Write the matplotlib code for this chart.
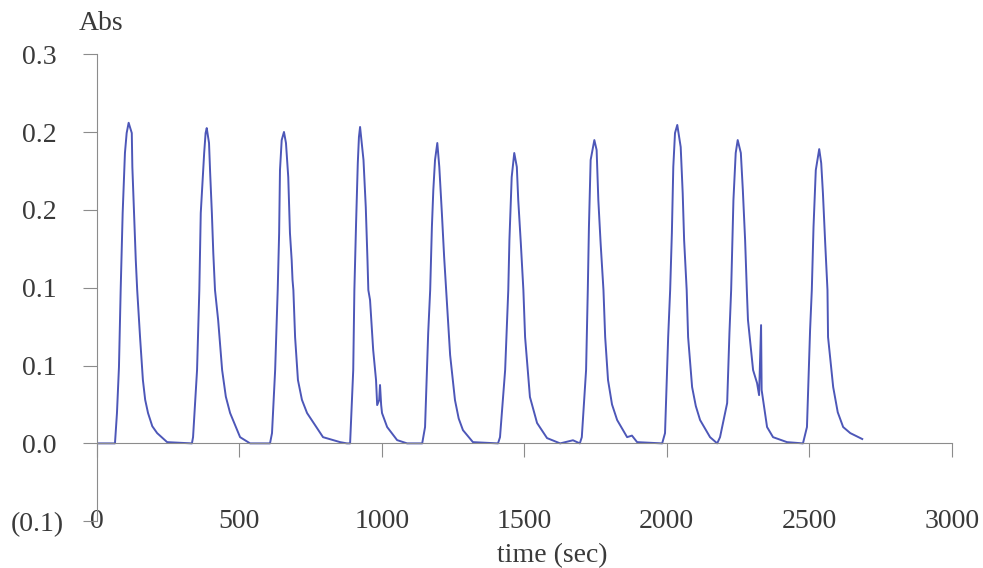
import matplotlib
matplotlib.use("Agg")
import matplotlib.pyplot as plt

# absorbance trace, one row per peak
time_s = [
    0, 57, 64, 71, 78, 84, 91, 99, 105, 112, 123, 125, 131, 137, 142, 152, 162, 170, 180, 195, 212, 247, 334,
    338, 352, 360, 365, 377, 382, 386, 394, 398, 404, 409, 415, 426, 440, 453, 468, 503, 538, 608,
    615, 626, 635, 640, 643, 649, 657, 664, 672, 678, 684, 687, 690, 696, 706, 720, 738, 794, 854, 878,
    889, 900, 904, 910, 916, 920, 924, 936, 944, 950, 953, 959, 970, 980, 984, 991, 994, 998, 1001, 1019, 1054, 1089, 1142,
    1152, 1163, 1170, 1176, 1181, 1187, 1195, 1202, 1211, 1219, 1226, 1240, 1257, 1270, 1285, 1320, 1408,
    1415, 1433, 1444, 1448, 1456, 1465, 1474, 1479, 1488, 1497, 1503, 1520, 1545, 1580, 1626, 1671, 1695,
    1702, 1717, 1723, 1727, 1733, 1746, 1754, 1760, 1768, 1778, 1784, 1794, 1808, 1826, 1861, 1878, 1896, 1984,
    1994, 2005, 2012, 2018, 2023, 2029, 2037, 2049, 2056, 2061, 2070, 2075, 2089, 2102, 2117, 2152, 2177,
    2187, 2212, 2220, 2226, 2234, 2242, 2249, 2260, 2267, 2275, 2281, 2285, 2303, 2317, 2324, 2331, 2333, 2352, 2373, 2422, 2478,
    2492, 2503, 2509, 2515, 2523, 2535, 2542, 2548, 2556, 2564, 2566, 2584, 2600, 2619, 2644, 2679, 2686,
]
absorbance = [
    0.0, 0.0, 0.0, 0.0195, 0.049, 0.0985, 0.148, 0.1866, 0.1994, 0.206, 0.1994, 0.1776, 0.148, 0.1178, 0.0985, 0.0683, 0.0407, 0.028, 0.0195, 0.011, 0.0066, 0.0008, 0.0,
    0.004, 0.0471, 0.0985, 0.148, 0.1866, 0.1994, 0.2026, 0.193, 0.1737, 0.148, 0.1223, 0.0985, 0.0793, 0.0471, 0.03, 0.0195, 0.004, 0.0, 0.0,
    0.0066, 0.0471, 0.0985, 0.1351, 0.1756, 0.1949, 0.2001, 0.193, 0.1711, 0.1351, 0.1178, 0.105, 0.0985, 0.0683, 0.0407, 0.028, 0.0195, 0.004, 0.0008, 0.0,
    0.0, 0.0471, 0.0985, 0.1416, 0.1801, 0.1968, 0.2033, 0.1821, 0.1518, 0.1178, 0.0985, 0.0921, 0.06, 0.0407, 0.0246, 0.0278, 0.0375, 0.0246, 0.0195, 0.0105, 0.0021, 0.0, 0.0,
    0.0105, 0.0709, 0.0985, 0.139, 0.1628, 0.1821, 0.193, 0.1776, 0.148, 0.1197, 0.0985, 0.0567, 0.0278, 0.016, 0.0085, 0.0008, 0.0,
    0.004, 0.0471, 0.0985, 0.1306, 0.1711, 0.1866, 0.1776, 0.1563, 0.1287, 0.0985, 0.0683, 0.0298, 0.0131, 0.0034, 0.0, 0.002, 0.0,
    0.004, 0.0471, 0.0985, 0.139, 0.1821, 0.1949, 0.1885, 0.1563, 0.1287, 0.0985, 0.0683, 0.0407, 0.025, 0.015, 0.004, 0.005, 0.0008, 0.0,
    0.0066, 0.0683, 0.0985, 0.1351, 0.1776, 0.1994, 0.2046, 0.1904, 0.1608, 0.1306, 0.0985, 0.0683, 0.0362, 0.024, 0.015, 0.004, 0.0,
    0.004, 0.0259, 0.0709, 0.0985, 0.1563, 0.1866, 0.1949, 0.1866, 0.1628, 0.1306, 0.0985, 0.0793, 0.0471, 0.0387, 0.031, 0.076, 0.0343, 0.0105, 0.004, 0.0008, 0.0,
    0.0105, 0.073, 0.0985, 0.139, 0.1756, 0.1891, 0.1801, 0.1608, 0.1287, 0.0985, 0.0683, 0.0362, 0.02, 0.0105, 0.0066, 0.0034, 0.0028,
]

x_ticks = [0, 500, 1000, 1500, 2000, 2500, 3000]
y_ticks = [-0.05, 0.0, 0.05, 0.1, 0.15, 0.2, 0.25]
# Excel-style rounded labels as shown on the chart
y_labels = ["(0.1)", "0.0 ", "0.1 ", "0.1 ", "0.2 ", "0.2 ", "0.3 "]

txt_color = "#3a3a3a"
axis_color = "#8c8c8c"
line_color = "#4d57b8"

plt.rcParams["font.family"] = ["Liberation Serif", "DejaVu Serif"]

fig = plt.figure(figsize=(9.83, 5.68), dpi=100)
ax = fig.add_axes([0.0984, 0.0824, 0.8698, 0.822])

ax.plot(time_s, absorbance, color=line_color, linewidth=1.4)

ax.set_xlim(0, 3000)
ax.set_ylim(-0.05, 0.25)

# axes styling
ax.spines["top"].set_visible(False)
ax.spines["right"].set_visible(False)
ax.spines["left"].set_color(axis_color)
ax.spines["bottom"].set_color(axis_color)
ax.spines["bottom"].set_position(("data", 0))

ax.set_xticks(x_ticks)
ax.set_yticks(y_ticks)
ax.set_yticklabels(y_labels)
ax.tick_params(axis="x", direction="out", length=10, color=axis_color, labelbottom=False)
ax.tick_params(axis="y", direction="out", length=10, color=axis_color,
               labelsize=20, labelcolor=txt_color, pad=14)

# x tick labels sit at the bottom of the plot area
for xv in x_ticks:
    ax.text(xv, -0.05, str(xv), ha="center", va="center", fontsize=20,
            color=txt_color, clip_on=False, zorder=1)

fig.text(101 / 983, 1 - 23 / 568, "Abs", ha="center", va="center", fontsize=20, color=txt_color)
fig.text(552 / 983, 1 - 556 / 568, "time (sec)", ha="center", va="center", fontsize=20, color=txt_color)

fig.savefig("out.png", dpi=100)
